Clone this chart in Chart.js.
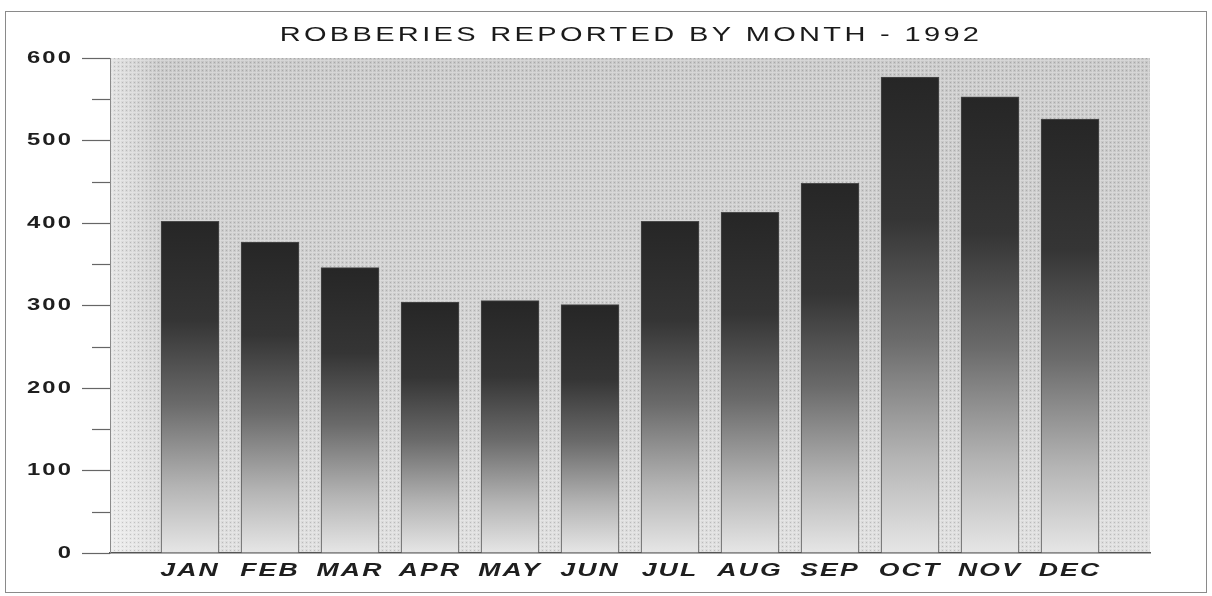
<!DOCTYPE html>
<html>
<head>
<meta charset="utf-8">
<title>Robberies 1992</title>
<script src="https://cdn.jsdelivr.net/npm/chart.js"></script>
<style>
  html, body { margin: 0; padding: 0; background: #fff; }
</style>
</head>
<body>
<canvas id="robosChart" width="1212" height="596"></canvas>
<script>
// DATOS
const titulo = 'ROBBERIES REPORTED BY MONTH - 1992';
const meses = ['JAN', 'FEB', 'MAR', 'APR', 'MAY', 'JUN', 'JUL', 'AUG', 'SEP', 'OCT', 'NOV', 'DEC'];
const robos = [402, 377, 346, 304, 306, 301, 402, 413, 448, 577, 553, 526];
const marcasY = [0, 100, 200, 300, 400, 500, 600];

// la tipografia original es ancha (extendida): se estira el texto en horizontal
function tituloExtendido(bloque, sx, espacio, dx) {
  if (!bloque || bloque.draw._extendido) return;
  const original = bloque.draw;
  const envuelto = function (...args) {
    const ctx = this.ctx;
    const c0 = (this.left + this.right) / 2;
    ctx.save();
    ctx.letterSpacing = espacio;
    ctx.translate(c0 + dx, 0);
    ctx.scale(sx, 1);
    ctx.translate(-c0, 0);
    original.apply(this, args);
    ctx.restore();
  };
  envuelto._extendido = true;
  bloque.draw = envuelto;
}

function etiquetasExtendidas(escala, sx, espacio) {
  if (!escala || escala._extendido) return;
  escala._extendido = true;
  escala.drawLabels = function () {
    const ctx = this.ctx;
    for (const item of this.getLabelItems()) {
      const op = item.options;
      ctx.save();
      ctx.translate(op.translation[0], op.translation[1]);
      ctx.scale(sx, 1);
      ctx.letterSpacing = espacio;
      ctx.font = item.font.string;
      ctx.fillStyle = op.color;
      ctx.textAlign = op.textAlign;
      ctx.textBaseline = op.textBaseline;
      ctx.fillText(item.label, 0, item.textOffset);
      ctx.restore();
    }
  };
}

const textoExtendido = {
  id: 'textoExtendido',
  beforeDraw(chart) {
    tituloExtendido(chart.titleBlock, 1.45, '2.3px', 56);
    etiquetasExtendidas(chart.scales.x, 1.4, '1.5px');
    etiquetasExtendidas(chart.scales.y, 1.4, '1.5px');
  }
};

let trama = null;
function crearTrama(ctx) {
  if (trama) return trama;
  const c = document.createElement('canvas');
  c.width = 4; c.height = 4;
  const t = c.getContext('2d');
  t.fillStyle = 'rgba(255,255,255,0.9)';
  t.fillRect(0, 0, 4, 1);
  t.fillRect(0, 0, 1, 4);
  t.fillStyle = 'rgba(0,0,0,0.5)';
  t.fillRect(2, 2, 1, 1);
  trama = ctx.createPattern(c, 'repeat');
  return trama;
}

// fondo gris tramado del area del grafico
const fondoTramado = {
  id: 'fondoTramado',
  beforeDraw(chart) {
    const { ctx, chartArea: a } = chart;
    const ancho = a.right - a.left, alto = a.bottom - a.top;
    ctx.save();
    const g = ctx.createLinearGradient(0, a.top, 0, a.bottom);
    g.addColorStop(0, '#c6c6c6');
    g.addColorStop(0.5, '#cdcdcd');
    g.addColorStop(1, '#dddddd');
    ctx.fillStyle = g;
    ctx.fillRect(a.left, a.top, ancho, alto);
    const h = ctx.createLinearGradient(a.left, 0, a.left + 50, 0);
    h.addColorStop(0, 'rgba(255,255,255,0.45)');
    h.addColorStop(1, 'rgba(255,255,255,0)');
    ctx.fillStyle = h;
    ctx.fillRect(a.left, a.top, 50, alto);
    ctx.globalAlpha = 0.3;
    ctx.fillStyle = crearTrama(ctx);
    ctx.fillRect(a.left, a.top, ancho, alto);
    ctx.restore();
  }
};

// marcas cortas entre las marcas principales del eje Y
const marcasMenores = {
  id: 'marcasMenores',
  afterDraw(chart) {
    const y = chart.scales.y;
    const ctx = chart.ctx;
    ctx.save();
    ctx.strokeStyle = '#666';
    ctx.lineWidth = 1.2;
    for (let i = 0; i < y.ticks.length - 1; i++) {
      const medio = (y.ticks[i].value + y.ticks[i + 1].value) / 2;
      const py = Math.round(y.getPixelForValue(medio)) + 0.5;
      ctx.beginPath();
      ctx.moveTo(y.right - 18, py);
      ctx.lineTo(y.right, py);
      ctx.stroke();
    }
    // marco de la figura
    ctx.strokeStyle = '#8a8a8a';
    ctx.lineWidth = 1;
    ctx.strokeRect(5.5, 11.5, 1201, 581);
    ctx.restore();
  }
};

function degradadoBarra(context) {
  const { ctx, scales } = context.chart;
  if (!scales.y || !context.raw) return '#333';
  const yTop = scales.y.getPixelForValue(context.raw.y);
  const yBase = scales.y.getPixelForValue(0);
  if (!isFinite(yTop) || !isFinite(yBase)) return '#333';
  const g = ctx.createLinearGradient(0, yTop, 0, yBase);
  g.addColorStop(0, '#262626');
  g.addColorStop(0.3, '#353535');
  g.addColorStop(0.55, '#6a6a6a');
  g.addColorStop(0.8, '#b4b4b4');
  g.addColorStop(1, '#e6e6e6');
  return g;
}

new Chart(document.getElementById('robosChart'), {
  type: 'bar',
  data: {
    datasets: [{
      label: 'Robberies',
      data: meses.map((m, i) => ({ x: i, y: robos[i] })),
      backgroundColor: degradadoBarra,
      borderColor: '#4a4a4a',
      borderWidth: 1,
      barThickness: 58
    }]
  },
  options: {
    responsive: false,
    animation: false,
    layout: { padding: { left: 0, right: 62, top: 0, bottom: 0 } },
    plugins: {
      legend: { display: false },
      tooltip: { enabled: false },
      title: {
        display: true,
        text: titulo,
        color: '#1a1a1a',
        font: { family: 'Liberation Sans', size: 20, weight: 'normal' },
        padding: { top: 23, bottom: 11 }
      }
    },
    scales: {
      x: {
        type: 'linear',
        offset: false,
        min: -1,
        max: meses.length,
        afterFit: s => { s.height = 43; },
        ticks: {
          stepSize: 1,
          autoSkip: false,
          maxRotation: 0,
          padding: 6,
          color: '#1e1e1e',
          font: { family: 'Liberation Sans', size: 19, weight: 'bold', style: 'italic' },
          callback: v => meses[v] ?? ''
        },
        grid: { display: false, drawTicks: false },
        border: { display: true, color: '#555', width: 1.5 }
      },
      y: {
        min: marcasY[0],
        max: marcasY[marcasY.length - 1],
        afterFit: s => { s.width = 110; },
        ticks: {
          stepSize: marcasY[1] - marcasY[0],
          padding: 9,
          color: '#1e1e1e',
          font: { family: 'Liberation Sans', size: 17, weight: 'bold' }
        },
        grid: { drawOnChartArea: false, tickLength: 28, tickColor: '#666', tickWidth: 1.2 },
        border: { display: true, color: '#8a8a8a', width: 1 }
      }
    }
  },
  plugins: [fondoTramado, textoExtendido, marcasMenores]
});
</script>
</body>
</html>
